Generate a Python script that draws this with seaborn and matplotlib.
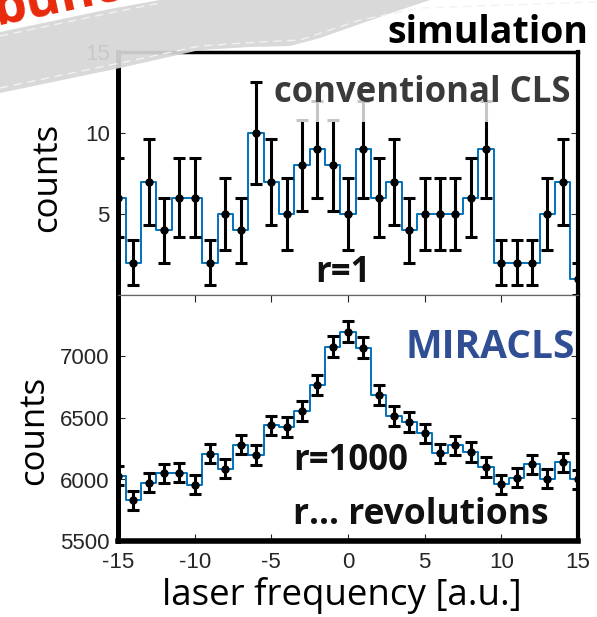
import matplotlib
matplotlib.use("Agg")
import matplotlib.pyplot as plt
import seaborn as sns
from matplotlib.patches import Polygon, Rectangle
from matplotlib.lines import Line2D

# ---------------- data ----------------
freq = list(range(-15, 16))
counts_cls = [6, 2, 7, 4, 6, 6, 2, 5, 4, 10, 7, 5, 8, 9, 8, 5,
              9, 6, 7, 4, 5, 5, 5, 6, 9, 2, 2, 2, 5, 7, 1]
err_cls = [2.45, 1.41, 2.65, 2.0, 2.45, 2.45, 1.41, 2.24, 2.0, 3.16, 2.65,
           2.24, 2.83, 3.0, 2.83, 2.24, 3.0, 2.45, 2.65, 2.0, 2.24, 2.24,
           2.24, 2.45, 3.0, 1.41, 1.41, 1.41, 2.24, 2.65, 1.0]
counts_miracls = [6030, 5830, 5973, 6050, 6055, 5957, 6210, 6087, 6283, 6198,
                  6440, 6428, 6554, 6766, 7081, 7203, 7073, 6690, 6516, 6467,
                  6375, 6212, 6277, 6223, 6101, 5960, 6014, 6122, 6008, 6141,
                  6000]
err_miracls = [78, 76, 77, 78, 78, 77, 79, 78, 79, 79, 80, 80, 81, 82, 84, 85,
               84, 82, 81, 80, 80, 79, 79, 79, 78, 77, 78, 78, 78, 78, 77]
xticks = [-15, -10, -5, 0, 5, 10, 15]
yticks_cls = [5, 10, 15]
yticks_miracls = [5500, 6000, 6500, 7000]

# ---------------- style ----------------
sns.set_theme(style="white")
plt.rcParams["font.family"] = ["Liberation Sans", "DejaVu Sans"]

W, H = 597, 617
fig = plt.figure(figsize=(W / 100, H / 100), dpi=100)
fig.patch.set_facecolor("white")


def fx(x):
    return x / W


def fy(y):
    return 1 - y / H


L, R = 118, 578
ax1 = fig.add_axes([fx(L), fy(295), fx(R) - fx(L), fy(52) - fy(295)])
ax2 = fig.add_axes([fx(L), fy(541), fx(R) - fx(L), fy(295) - fy(541)])

blue = "#0072BD"
tickcol = "#262626"
slide_font = ["Open Sans", "DejaVu Sans"]

for ax, y, e in [(ax1, counts_cls, err_cls), (ax2, counts_miracls, err_miracls)]:
    sns.lineplot(x=freq, y=y, drawstyle="steps-mid", color=blue, lw=1.4,
                 ax=ax, zorder=2)
    ax.errorbar(freq, y, yerr=e, fmt="o", color="black", ms=5,
                elinewidth=2.2, capsize=4.5, capthick=2.2, zorder=3)
    ax.set_xlim(-15, 15)
    ax.set_xticks(xticks)
    ax.set_facecolor("white")
    ax.tick_params(direction="in", length=5, width=0.8, colors=tickcol,
                   labelsize=16, pad=6, top=True, right=True,
                   left=True, bottom=True)
    for s in ax.spines.values():
        s.set_visible(True)
        s.set_color("black")
    ax.spines["left"].set_linewidth(3.6)
    ax.spines["right"].set_linewidth(3.0)

ax1.set_ylim(0, 15)
ax1.set_yticks(yticks_cls)
ax1.set_yticklabels([str(v) for v in yticks_cls])
ax1.tick_params(axis="x", bottom=False, top=False, labelbottom=False)
ax1.spines["top"].set_linewidth(2.5)
ax1.spines["bottom"].set_linewidth(0.9)
ax1.spines["bottom"].set_color("#666666")

ax2.set_ylim(5500, 7500)
ax2.set_yticks(yticks_miracls)
ax2.set_yticklabels([str(v) for v in yticks_miracls])
ax2.set_xticklabels([str(v) for v in xticks])
ax2.tick_params(axis="x", pad=8)
ax2.spines["top"].set_linewidth(0.9)
ax2.spines["top"].set_color("#666666")
ax2.spines["bottom"].set_linewidth(4.0)

# axis labels
ax1.set_ylabel("counts", fontsize=25, family=slide_font, color="black")
ax1.yaxis.set_label_coords(-0.118, 0.484)
ax2.set_ylabel("counts", fontsize=25, family=slide_font, color="black")
ax2.yaxis.set_label_coords(-0.146, 0.451)
ax2.set_xlabel("laser frequency [a.u.]", fontsize=26.5, family=slide_font,
               color="black")
ax2.xaxis.set_label_coords(0.486, -0.148)

# translucent box behind "conventional CLS"
ax1.add_patch(Rectangle((0.33, 0.712), 0.663, 0.235, transform=ax1.transAxes,
                        facecolor="white", alpha=0.78, edgecolor="none",
                        zorder=4))
ax1.text(0.983, 0.794, "conventional CLS", transform=ax1.transAxes,
         ha="right", va="baseline", fontsize=25, fontweight="bold",
         family=slide_font, color="#3a3a3a", zorder=5)
ax1.text(0.428, 0.0535, "r=1", transform=ax1.transAxes, ha="left",
         va="baseline", fontsize=25, fontweight="bold", family=slide_font,
         color="#111111", zorder=5)

ax2.text(0.9935, 0.744, "MIRACLS", transform=ax2.transAxes, ha="right",
         va="baseline", fontsize=28, fontweight="bold", family=slide_font,
         color="#2F4E94", zorder=5)
ax2.text(0.381, 0.2886, "r=1000", transform=ax2.transAxes, ha="left",
         va="baseline", fontsize=25, fontweight="bold", family=slide_font,
         color="#111111", zorder=5)
ax2.text(0.381, 0.069, "r... revolutions", transform=ax2.transAxes, ha="left",
         va="baseline", fontsize=25.5, fontweight="bold", family=slide_font,
         color="#111111", zorder=5)

# slide decorations
fig.text(fx(588), fy(43), "simulation", ha="right", va="baseline",
         fontsize=27, fontweight="bold", family=slide_font, color="black",
         zorder=6)
fig.text(fx(-3), fy(25), "bunched", ha="left", va="baseline", rotation=12,
         rotation_mode="anchor", fontsize=38, fontweight="bold",
         family=slide_font, color="#e8290c", zorder=6)

band = [(0, 32), (110, 9), (160, 0), (430, 0), (400, 10), (360, 24),
        (320, 38), (290, 46), (250, 47), (200, 50), (120, 68), (0, 93)]
fig.add_artist(Polygon([(fx(x), fy(y)) for x, y in band], closed=True,
                       transform=fig.transFigure, facecolor="#d6d6d6",
                       edgecolor="none", alpha=0.93, zorder=7))
lower = [(0, 88), (120, 63), (200, 46), (260, 42), (300, 40), (360, 20),
         (420, 8), (597, 2)]
upper = [(0, 36), (110, 13), (160, 3)]
for pts in (lower, upper):
    fig.add_artist(Line2D([fx(x) for x, _ in pts], [fy(y) for _, y in pts],
                          transform=fig.transFigure, color="#f2f2f2",
                          lw=1.0, ls=(0, (6, 4)), zorder=8))

fig.savefig("out.png", dpi=100)
